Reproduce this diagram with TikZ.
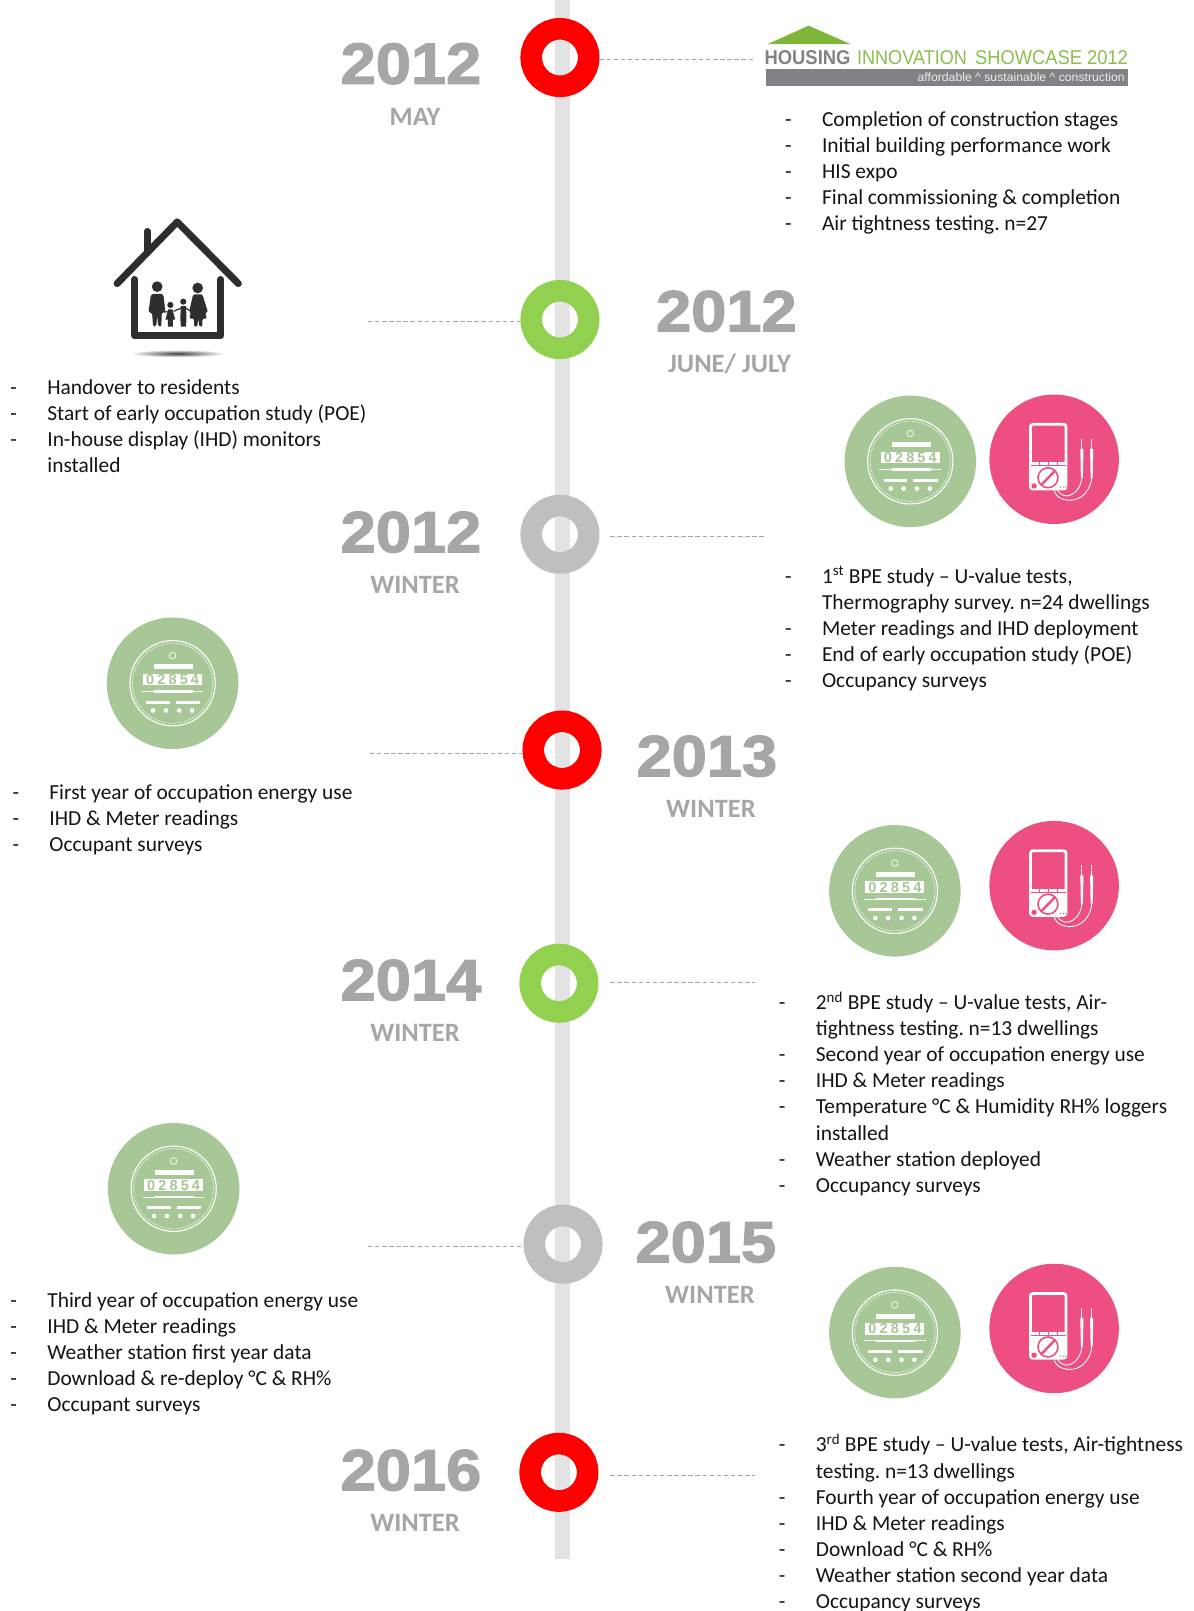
\documentclass[tikz,border=0pt]{standalone}
\usepackage{fontspec}
\setmainfont{Carlito}
\newfontfamily\helv{Liberation Sans}
\newfontfamily\yearf[FakeStretch=1.09,BoldFeatures={FakeBold=2.2,FakeStretch=1.09}]{Liberation Sans}
\usetikzlibrary{calc}
\definecolor{barcol}{HTML}{E3E3E3}
\definecolor{ringred}{HTML}{FF0000}
\definecolor{ringgreen}{HTML}{92D050}
\definecolor{ringgrey}{HTML}{BFBFBF}
\definecolor{yeargrey}{HTML}{A6A6A6}
\definecolor{dashgrey}{HTML}{A6A6A6}
\definecolor{metergreen}{HTML}{A8C796}
\definecolor{pinkcol}{HTML}{EC4F80}
\definecolor{logogreen}{HTML}{7FB539}
\definecolor{logotext}{HTML}{8CBE4F}
\definecolor{logogrey}{HTML}{808285}
\definecolor{bodyink}{HTML}{141414}
\definecolor{houseink}{HTML}{2E2E2E}
\newcommand\dg[1]{\makebox[11.2pt]{#1}}
\newcommand\dashitem{\makebox[36.9pt][l]{-}}
\newcommand\noitem{\makebox[36.9pt][l]{}}
\frenchspacing
\tikzset{
  ring/.style={circle,draw=#1,line width=21.6pt,minimum size=57.5pt,inner sep=0pt,fill=none},
  conn/.style={draw=dashgrey,line width=1pt,dash pattern=on 4.5pt off 2.6pt},
  yearlab/.style={text=yeargrey,inner sep=0pt,anchor=center,font=\yearf\bfseries\fontsize{58}{70}\selectfont},
  sublab/.style={text=yeargrey,inner sep=0pt,anchor=center,font=\bfseries\fontsize{26.5}{30}\selectfont},
  bodylist/.style={text=bodyink,inner sep=0pt,anchor=north west,align=left,font=\frenchspacing\fontsize{21.4}{26.1}\selectfont},
  pics/meter/.style={code={
    \fill[metergreen] (0,0) circle[radius=64];
    \draw[white,line width=1.1pt] (0,0) circle[radius=41.5];
    \draw[white,line width=.8pt,densely dotted] (0,0) circle[radius=39];
    \draw[white,line width=.7pt] (0,-27) circle[radius=3.2];
    \fill[white] (-18,-18.5) rectangle (20,-13.5);
    \node[fill=white,inner sep=0pt,minimum width=59pt,minimum height=11.5pt,text=metergreen,font=\helv\bfseries\fontsize{14.5}{14.5}\selectfont] (-digits) at (0,-3.5) {\dg{0}\dg{2}\dg{8}\dg{5}\dg{4}};
    \draw[white,line width=.8pt] (-30,8) -- (30,8);
    \draw[white,line width=2.2pt] (-18,8) -- (20,8);
    \draw[white,line width=2.6pt] (-26,18.5) -- (-3,18.5) (3,18.5) -- (27,18.5);
    \foreach \dx in {-19,-6.5,6.5,19} \fill[white] (\dx,26.5) circle[radius=2.3];
  }},
  pics/tester/.style={code={
    \fill[pinkcol] (0,0) circle[radius=63];
    \draw[white,line width=2.8pt,rounded corners=2.5pt] (-23,-34) rectangle (11.5,29);
    \fill[white] (-23,3) rectangle (11.5,30);
    \draw[pinkcol,line width=.9pt] (-23,6.5) -- (11.5,6.5);
    \draw[pinkcol,line width=.9pt] (-14,3) -- (-14,6.5) (-6,3) -- (-6,6.5) (3,3) -- (3,6.5);
    \fill[pinkcol] (-6,18) circle[radius=10.5];
    \fill[white] (-6,18) circle[radius=8.8];
    \draw[pinkcol,line width=2.4pt] (-12.5,25) -- (1,11);
    \fill[pinkcol] (-19.5,26) circle[radius=2.6];
    \foreach \dx in {6,8.8,11.2} \fill[pinkcol] (\dx,27) circle[radius=.7];
    \draw[white,line width=.9pt] (27,-20) -- (27,-10) (36.5,-20) -- (36.5,-10);
    \fill[white] (25.5,-10) -- (28.5,-10) -- (28,18) -- (26,18) -- cycle;
    \fill[white] (35,-10) -- (38,-10) -- (37.5,18) -- (35.5,18) -- cycle;
    \draw[white,line width=.9pt] (27,18) .. controls (26,30) and (16,38) .. (9,35) .. controls (6,34) and (4,32) .. (3.5,30);
    \draw[white,line width=.9pt] (36.5,18) .. controls (35,34) and (22,43) .. (9,39) .. controls (3,37) and (1,34) .. (0,30);
  }},
  pics/family/.style={code={
    \fill[houseink] (153,279) circle[radius=5.2];
    \fill[houseink,rounded corners=2pt] (147,286) -- (159,286) -- (161,304) -- (157.5,304) -- (157,318) -- (154,318) -- (153,307) -- (152,318) -- (149,318) -- (148,304) -- (144.5,304) -- cycle;
    \fill[houseink] (192.4,280.3) circle[radius=5.2];
    \fill[houseink,rounded corners=1.5pt] (188,286.5) -- (197,286.5) -- (202.5,304) -- (199.5,304) -- (201.5,310) -- (197,310) -- (197,318) -- (194,318) -- (193,310) -- (192,318) -- (189,318) -- (189,310) -- (184,310) -- (186,304) -- (184,304) -- cycle;
    \fill[houseink] (165.8,296.8) circle[radius=3];
    \fill[houseink] (163.8,301) -- (167.8,301) -- (170.5,311) -- (168.3,311) -- (168.3,318) -- (163.3,318) -- (163.3,311) -- (161,311) -- cycle;
    \fill[houseink] (178.4,293.6) circle[radius=3];
    \fill[houseink] (176,298) -- (181,298) -- (181.5,309) -- (181,318) -- (176,318) -- (175.5,309) -- cycle;
    \draw[houseink,line width=1.2pt] (160,304) -- (163,303) (169,303) -- (176,300) (181,300) -- (186,303);
  }},
  pics/house/.style={code={
    \draw[houseink,line width=6.4pt,line cap=round] (143.5,225) -- (143.5,246);
    \draw[houseink,line width=7pt,line cap=round,line join=round] (114,276) -- (172.5,216) -- (232,276);
    \draw[houseink,line width=7pt,line cap=round,line join=round] (131,272) -- (131,327) -- (215,327) -- (215,272);
    \pic {family};
    \shade[inner color=black!75,outer color=white] (173,344) ellipse [x radius=46,y radius=3.6];
  }},
}
\begin{document}
\begin{tikzpicture}[x=1.0275pt,y=-1.0275pt]
\useasboundingbox (0,0) rectangle (1162,1568);
\fill[white] (0,0) rectangle (1162,1568);
% timeline bar
\fill[barcol] (540,0) rectangle (555,1517);
% rings
\node[ring=ringred] (r1) at (545,56) {};
\node[ring=ringgreen] (r2) at (545,311) {};
\node[ring=ringgrey] (r3) at (545,520) {};
\node[ring=ringred] (r4) at (547,730) {};
\node[ring=ringgreen] (r5) at (544,957) {};
\node[ring=ringgrey] (r6) at (548,1211) {};
\node[ring=ringred] (r7) at (544,1433) {};
% connector ends
\coordinate (d1) at (733,58);
\coordinate (d2) at (358,313);
\coordinate (d3a) at (594,522);
\coordinate (d3) at (744,522);
\coordinate (d4) at (360,733);
\coordinate (d5a) at (594,956);
\coordinate (d5) at (735,956);
\coordinate (d6) at (358,1213);
\coordinate (d7a) at (594,1436);
\coordinate (d7) at (735,1436);
\draw[conn] (r1.east |- d1) -- (d1);
\draw[conn] (d2) -- (r2.west |- d2);
\draw[conn] (d3a) -- (d3);
\draw[conn] (d4) -- (r4.west |- d4);
\draw[conn] (d5a) -- (d5);
\draw[conn] (d6) -- (r6.west |- d6);
\draw[conn] (d7a) -- (d7);
% year labels
\node[yearlab] (y1) at (400,62) {2012};
\node[sublab] (s1) at (404,114) {MAY};
\node[yearlab] (y2) at (707,303) {2012};
\node[sublab] (s2) at (710,354) {JUNE/ JULY};
\node[yearlab] (y3) at (400,518) {2012};
\node[sublab] (s3) at (404,569) {WINTER};
\node[yearlab] (y4) at (688,736) {2013};
\node[sublab] (s4) at (692,787) {WINTER};
\node[yearlab] (y5) at (400,954) {2014};
\node[sublab] (s5) at (404,1005) {WINTER};
\node[yearlab] (y6) at (687,1209) {2015};
\node[sublab] (s6) at (691,1260) {WINTER};
\node[yearlab] (y7) at (400,1431) {2016};
\node[sublab] (s7) at (404,1482) {WINTER};
% logo
\fill[logogreen] (787,25) -- (747,43) -- (828,43) -- cycle;
\node[anchor=west,inner sep=0pt,text=logogrey,font=\helv\fontsize{20}{22}\selectfont] (logoa) at (744,56) {\scalebox{.92}[1]{\textbf{HOUSING}}};
\node[anchor=west,inner sep=0pt,text=logotext,font=\helv\fontsize{20}{22}\selectfont] (logob) at (834,56) {\scalebox{.905}[1]{INNOVATION}};
\node[anchor=east,inner sep=0pt,text=logotext,font=\helv\fontsize{20}{22}\selectfont] (logoc) at (1098,56) {\scalebox{.917}[1]{SHOWCASE 2012}};
\fill[logogrey] (745.5,67.5) rectangle (1098,83.5);
\node[anchor=east,inner sep=0pt,text=white!85!logogrey,font=\helv\fontsize{12}{14}\selectfont] (logod) at (1095,75.5) {\scalebox{1.02}[1]{affordable \^{} sustainable \^{} construction}};
% house
\pic at (0,0) {house};
% icons
\pic (m1) at (886,449) {meter};
\pic (t1) at (1026,447) {tester};
\pic (m2) at (168,665) {meter};
\pic (m3) at (871,867) {meter};
\pic (t2) at (1026,862) {tester};
\pic (m4) at (169,1157) {meter};
\pic (m5) at (871,1297) {meter};
\pic (t3) at (1026,1293) {tester};
% lists
\node[bodylist] (la) at (764,108.5) {\dashitem Completion of construction stages\\\dashitem Initial building performance work\\\dashitem HIS expo\\\dashitem Final commissioning \& completion\\\dashitem Air tightness testing. n=27};
\node[bodylist] (lb) at (10,369) {\dashitem Handover to residents\\\dashitem Start of early occupation study (POE)\\\dashitem In-house display (IHD) monitors\\\noitem installed};
\node[bodylist] (lc) at (764,551) {\dashitem 1\textsuperscript{st} BPE study – U-value tests,\\\noitem Thermography survey. n=24 dwellings\\\dashitem Meter readings and IHD deployment\\\dashitem End of early occupation study (POE)\\\dashitem Occupancy surveys};
\node[bodylist] (ld) at (12,763.5) {\dashitem First year of occupation energy use\\\dashitem IHD \& Meter readings\\\dashitem Occupant surveys};
\node[bodylist] (le) at (758,965) {\dashitem 2\textsuperscript{nd} BPE study – U-value tests, Air-\\\noitem tightness testing. n=13 dwellings\\\dashitem Second year of occupation energy use\\\dashitem IHD \& Meter readings\\\dashitem Temperature °C \& Humidity RH\% loggers\\\noitem installed\\\dashitem Weather station deployed\\\dashitem Occupancy surveys};
\node[bodylist] (lf) at (10,1257.5) {\dashitem Third year of occupation energy use\\\dashitem IHD \& Meter readings\\\dashitem Weather station first year data\\\dashitem Download \& re-deploy °C \& RH\%\\\dashitem Occupant surveys};
\node[bodylist] (lg) at (758,1395.5) {\dashitem 3\textsuperscript{rd} BPE study – U-value tests, Air-tightness\\\noitem testing. n=13 dwellings\\\dashitem Fourth year of occupation energy use\\\dashitem IHD \& Meter readings\\\dashitem Download °C \& RH\%\\\dashitem Weather station second year data\\\dashitem Occupancy surveys};
\end{tikzpicture}
\end{document}
